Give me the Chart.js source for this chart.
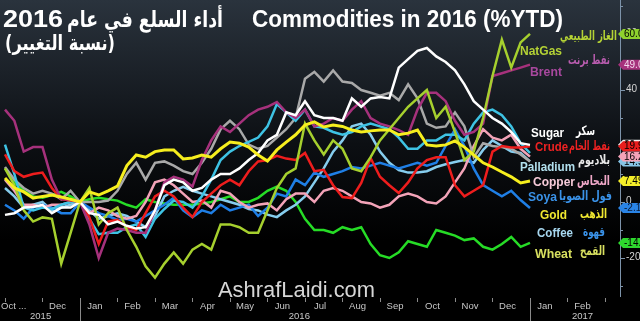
<!DOCTYPE html>
<html>
<head>
<meta charset="utf-8">
<script src="https://cdn.jsdelivr.net/npm/chart.js@4.4.0/dist/chart.umd.min.js"></script>
<style>
html, body { margin: 0; padding: 0; background: #000; }
canvas { display: block; }
</style>
</head>
<body>
<canvas id="chart" width="640" height="321"></canvas>
<script>
// months since 1 Jan 2016, roughly weekly
const months = [-2, -1.75, -1.5, -1.25, -1, -0.75, -0.5, -0.25, 0, 0.25, 0.5, 0.75, 1, 1.25, 1.5, 1.75, 2, 2.25, 2.5, 2.75, 3, 3.25, 3.5, 3.75, 4, 4.25, 4.5, 4.75, 5, 5.25, 5.5, 5.75, 6, 6.25, 6.5, 6.75, 7, 7.25, 7.5, 7.75, 8, 8.25, 8.5, 8.75, 9, 9.25, 9.5, 9.75, 10, 10.25, 10.5, 10.75, 11, 11.25, 11.5, 11.75, 12];

const gold = [8.6, 5, 3.6, 1.4, 2, 2.5, 1.8, 1, 0, 3.6, 2.5, 4, 5.7, 13, 16.8, 16, 18, 18.6, 18.6, 15.4, 15.7, 16.8, 16, 19, 21.4, 21, 19.6, 16.8, 14.6, 18.6, 21.4, 24, 27.5, 28.6, 26.8, 27.5, 27, 25.7, 25, 25.4, 25.7, 25.7, 24, 24.6, 25.7, 20.4, 20, 20.4, 21.8, 19.6, 16.8, 14, 12.5, 10.7, 9, 6.8, 7.49];
const sugar = [-4.6, -4, -2, -1.8, -1, -4, -2, -2, 0, -4, -4.6, -8, -7, -8.5, -9.5, -9, -3, 6, 8, 7, 4, 5, 8, 10, 10, 12, 15, 17.5, 22, 24, 32, 31, 36, 31, 30, 30, 29, 37, 34, 37, 37.5, 37, 48, 51, 54, 55, 52, 50, 47, 42, 36, 33, 30, 28, 25, 21, 20.4];
const natgas = [12, 6, -3, -7, -5.5, -6, -22, -11, 0, 5, -8, -4, -2, -10, -16, -23, -27, -22, -18, -22, -17, -15, -17, -8, -8, -9, -11, -11, -3, 5, 10, 12, 28, 22, 17, 22, 19, 12, 11, 16, 22, 26, 30, 34, 37, 40, 30, 34, 25, 15, 18, 30, 45, 58, 48, 57, 60.02];
const brent = [33, 29, 18, 19.6, 19.6, 8, 1, 1, 0, -8, -20, -11, -9.5, -10, -11, -11, -3, 7, 9, 8, 5.5, 15, 22, 27, 25, 28, 31, 33, 34, 35.7, 32, 30, 33, 27, 28, 30, 29, 33, 36, 30, 28, 27, 25.7, 24, 33, 39, 39, 36, 29, 24, 25, 28, 45, 46, 47, 48, 49.04];
const crude = [17, 11, 9, 10, 10.5, 5, 1, 0.5, 0, -5.5, -15, -7, -6.4, -9, -10, -4, 2, 4, 2, -2, -5.4, 0, 3, 6, 8, 6, 11, 14.5, 15, 16.5, 15.5, 15, 17.5, 11, 11.5, 6, 1.8, 1.4, 6.8, 15.7, 9, 6, 3.2, 7, 12, 15, 16, 16, 6, 2, 4, 6, 18, 20, 19.5, 19.5, 19.93];
const palladium = [20.5, 10, -2, -3, -2, -2.5, -1, 0, 0, -6, -11.5, -11, -11, -9, -8, -12.5, -6, -2.5, 0.5, 0, -2, 2, 8, 15, 18, 20, 21.5, 23, 27, 35, 32, 29, 33, 27, 26.5, 25, 24, 25, 27, 28, 27, 26, 23, 19, 19, 22, 22, 24, 24, 22, 28, 32, 33, 31, 27, 21, 17.5];
const silver = [12.5, 8, 5, 3, 4, 3, 1, 4, 0, 0, 0, 0.5, 4, 10, 14, 8, 14, 14.5, 13, 11, 10, 14, 19, 26, 29, 26, 20.5, 19, 20, 23, 26, 30, 44, 46.5, 43, 47, 43, 42.5, 40, 39, 38, 39, 36.4, 42, 37, 28, 26.5, 27, 32, 27, 16, 21, 20, 19.6, 19, 17, 14.5];
const copper = [8, 4, -1, -1, -2, -1, -1, 0, 0, -4, -2, -3, -5, -6, -5, 0, 7, 8, 6, 3, 0, 0.5, -2, 4, 3, 0, -2, -1, -0.5, -3, 1, 3, 3, 0, 4, 5, 4, 2, 0, -0.5, -2, -1, 2, 3, 2, 0, -0.5, 2, 7, 12, 20, 26, 23, 22, 24, 19, 16.21];
const soya = [-1, -3, -6, -2, -1, -2, -4, -4, 0, -2, -4, -5, -6.4, -6, -7, -5, -3, -1, 1.5, -3, -5.4, -3, -4, -1, -3, -2, -1, -5, -2, 3, 2, 8, 6, 10.5, 9, 10, 11, 12.5, 12, 13, 14, 13, 12, 13, 14, 13, 14, 20, 26, 20, 12, 6, 4, 2, 4, 0.7, -2.14];
const coffee = [5, 2, -2, -1, 0, -3, -2, -1, 0, -3, -6, -5, -4, -5, -7, -9, -5, 2, 4, 5.4, 4, 3, 2, 1, 0, -1, -2.5, -3, -4.5, -5.4, -3, -1, 2, 7, 12, 18, 22, 27, 28, 24, 18, 14, 11.4, 10.5, 10.5, 11, 12.5, 13.5, 14.3, 15, 14, 18.6, 22, 20, 18, 17.5, 14.5];
const wheat = [12, 7, 4, 2, 1.5, 2.5, 3.6, 2, 0, 1, 1.5, 1, 0.5, -1, -2, 1, 0, -0.5, -1, -1, -1, -0.5, 0, 1, 2, 0, 0, 1.5, 4, 5.5, 4, 0, -6, -10, -10, -11, -9, -10, -9, -15, -19, -20, -18, -14, -15, -16, -10, -11, -12, -13.6, -13, -16, -17, -15, -12.5, -16, -14.6];

const tickMonths = [-1, 0, 1, 2, 3, 4, 5, 6, 7, 8, 9, 10, 11, 12, 13];
const tickLabels = ['Dec', 'Jan', 'Feb', 'Mar', 'Apr', 'May', 'Jun', 'Jul', 'Aug', 'Sep', 'Oct', 'Nov', 'Dec', 'Jan', 'Feb'];
const yearLabels = ['2015', '2016', '2017'];
const yearMonths = [-1.05, 5.85, 13.4];
const yTicks = [-20, 0, 20, 40, 60];

const series = [
    { name: 'Gold', data: gold, color: '#f6ee1e', width: 3 },
    { name: 'Sugar', data: sugar, color: '#ffffff', width: 2.5 },
    { name: 'NatGas', data: natgas, color: '#a6d02e', width: 2.5 },
    { name: 'Brent', data: brent, color: '#a6317c', width: 2.5 },
    { name: 'Crude', data: crude, color: '#ee1d1d', width: 2.5 },
    { name: 'Palladium', data: palladium, color: '#3ec3e4', width: 2.5 },
    { name: 'Silver', data: silver, color: '#a9a9a9', width: 2.5 },
    { name: 'Copper', data: copper, color: '#f3a3b8', width: 2.5 },
    { name: 'Soya', data: soya, color: '#1f7fe6', width: 2.5 },
    { name: 'Coffee', data: coffee, color: '#86cdee', width: 2.5 },
    { name: 'Wheat', data: wheat, color: '#26dc26', width: 2.5 }
];

// badges on the right axis, drawn in this order
const badges = [
    { data: coffee, bg: '#86c4e6', fg: '#000' },
    { data: copper, bg: '#f3a3b8', fg: '#000' },
    { data: sugar, bg: '#f0f0f0', fg: '#000' },
    { data: crude, bg: '#e81d1d', fg: '#000' },
    { data: natgas, bg: '#8fd12e', fg: '#000' },
    { data: brent, bg: '#a6317c', fg: '#f4d8ee' },
    { data: gold, bg: '#f4ee2a', fg: '#000' },
    { data: soya, bg: '#2a84e6', fg: '#0b1830' },
    { data: wheat, bg: '#2ed82e', fg: '#000' }
];

// x / width of each text fitted horizontally
const labels = [
    { en: 'NatGas', x: 520, w: 42, y: 51, c: '#b4d235', ar: 'الغاز الطبيعي', ax: 560, aw: 57, ay: 37, ac: '#b4d235' },
    { en: 'Brent', x: 530, w: 32, y: 72, c: '#a8489e', ar: 'نفط برنت', ax: 568, aw: 42, ay: 61, ac: '#b85cae' },
    { en: 'Sugar', x: 531, w: 33, y: 133, c: '#ffffff', ar: 'سكر', ax: 576, aw: 19, ay: 132, ac: '#ffffff' },
    { en: 'Crude', x: 535, w: 33, y: 147, c: '#ee2222', ar: 'نفط الخام', ax: 569, aw: 41, ay: 147, ac: '#ee2222' },
    { en: 'Palladium', x: 520, w: 55, y: 167, c: '#b2e0ee', ar: 'بلاديوم', ax: 578, aw: 32, ay: 161, ac: '#e8e8e8' },
    { en: 'Copper', x: 533, w: 42, y: 182, c: '#f6cad8', ar: 'النحاس', ax: 577, aw: 33, ay: 182, ac: '#f0a8c8' },
    { en: 'Soya', x: 528, w: 29, y: 197, c: '#3a92e8', ar: 'فول الصويا', ax: 559, aw: 53, ay: 197, ac: '#3a92e8' },
    { en: 'Gold', x: 540, w: 27, y: 215, c: '#f0e830', ar: 'الذهب', ax: 580, aw: 27, ay: 215, ac: '#f0e830' },
    { en: 'Coffee', x: 537, w: 36, y: 233, c: '#a8d8f0', ar: 'قهوة', ax: 583, aw: 22, ay: 233, ac: '#3a92e8' },
    { en: 'Wheat', x: 535, w: 37, y: 254, c: '#d8e060', ar: 'القمح', ax: 580, aw: 25, ay: 252, ac: '#d8e060' }
];

function fitText(ctx, text, font, left, y, width, rtl) {
    ctx.save();
    ctx.font = font;
    ctx.direction = rtl ? 'rtl' : 'ltr';
    ctx.textAlign = 'left';
    const w = ctx.measureText(text).width;
    ctx.translate(left, y);
    ctx.scale(width / w, 1);
    ctx.fillText(text, 0, 0);
    ctx.restore();
}

function badge(ctx, y, bg, fg, text) {
    ctx.fillStyle = bg;
    ctx.beginPath();
    ctx.moveTo(618, y);
    ctx.lineTo(623, y - 5);
    ctx.lineTo(646, y - 5);
    ctx.lineTo(646, y + 5);
    ctx.lineTo(623, y + 5);
    ctx.closePath();
    ctx.fill();
    ctx.fillStyle = fg;
    ctx.font = '10px "Liberation Sans"';
    ctx.textAlign = 'left';
    ctx.textBaseline = 'middle';
    ctx.fillText(text, 624, y + 0.5);
}

const decor = {
    id: 'decor',
    beforeDraw(chart) {
        const ctx = chart.ctx;
        const g = ctx.createLinearGradient(0, 0, 0, 321);
        g.addColorStop(0, '#2a333d');
        g.addColorStop(0.45, '#0c0f13');
        g.addColorStop(0.75, '#000000');
        g.addColorStop(1, '#000000');
        ctx.save();
        ctx.fillStyle = g;
        ctx.fillRect(0, 0, 640, 321);
        ctx.restore();
    },
    afterDraw(chart) {
        const ctx = chart.ctx;
        const xs = chart.scales.x;
        const ys = chart.scales.y;
        const area = chart.chartArea;
        ctx.save();

        // right axis
        ctx.strokeStyle = '#7d93aa';
        ctx.lineWidth = 1;
        ctx.beginPath();
        ctx.moveTo(620.5, 0);
        ctx.lineTo(620.5, area.bottom);
        ctx.stroke();
        for (let v = -30; v <= 70; v += 10) {
            const y = Math.round(ys.getPixelForValue(v)) + 0.5;
            ctx.beginPath();
            ctx.moveTo(620, y);
            ctx.lineTo(v % 20 === 0 ? 625 : 623, y);
            ctx.stroke();
        }
        ctx.fillStyle = '#d4d4d4';
        ctx.font = '10px "Liberation Sans"';
        ctx.textAlign = 'left';
        ctx.textBaseline = 'middle';
        yTicks.forEach(v => ctx.fillText(String(v), 626, ys.getPixelForValue(v) - 1));

        badges.forEach(b => {
            const last = b.data[b.data.length - 1];
            badge(ctx, ys.getPixelForValue(last), b.bg, b.fg, last.toFixed(2));
        });

        // x axis
        ctx.strokeStyle = '#8a8a8a';
        for (let m = -2; m <= 14; m++) {
            const x = Math.round(xs.getPixelForValue(m)) + 0.5;
            ctx.beginPath();
            ctx.moveTo(x, area.bottom + 1);
            ctx.lineTo(x, area.bottom + 5);
            ctx.stroke();
        }
        [0, 12].forEach(m => {
            const x = Math.round(xs.getPixelForValue(m)) + 0.5;
            ctx.beginPath();
            ctx.moveTo(x, area.bottom + 1);
            ctx.lineTo(x, 321);
            ctx.stroke();
        });
        ctx.fillStyle = '#c8c8c8';
        ctx.font = '9.5px "Liberation Sans"';
        ctx.textAlign = 'center';
        ctx.textBaseline = 'middle';
        tickMonths.forEach((m, i) => ctx.fillText(tickLabels[i], xs.getPixelForValue(m + 0.4), 306));
        yearMonths.forEach((m, i) => ctx.fillText(yearLabels[i], xs.getPixelForValue(m), 316));
        ctx.textAlign = 'left';
        ctx.fillText('Oct ...', 1, 306);

        // watermark
        ctx.fillStyle = '#d6d6d6';
        ctx.textBaseline = 'alphabetic';
        fitText(ctx, 'AshrafLaidi.com', '22px "Liberation Sans"', 218, 297, 157, false);

        // titles
        ctx.fillStyle = '#ffffff';
        fitText(ctx, 'Commodities in 2016 (%YTD)', 'bold 23px "Liberation Sans"', 252, 27, 311, false);
        fitText(ctx, '2016', 'bold 23px "Liberation Sans"', 3, 27, 60, false);
        fitText(ctx, 'أداء السلع في عام', 'bold 22px "DejaVu Sans"', 67, 27, 156, true);
        fitText(ctx, '(نسبة التغيير)', 'bold 21px "DejaVu Sans"', 5, 50, 110, true);

        // series labels
        ctx.textBaseline = 'middle';
        labels.forEach(l => {
            ctx.fillStyle = l.c;
            fitText(ctx, l.en, 'bold 13px "Liberation Sans"', l.x, l.y, l.w, false);
            ctx.fillStyle = l.ac;
            fitText(ctx, l.ar, 'bold 13px "DejaVu Sans"', l.ax, l.ay, l.aw, true);
        });
        ctx.restore();
    }
};

new Chart(document.getElementById('chart'), {
    type: 'line',
    data: {
        datasets: series.map(s => ({
            label: s.name,
            data: months.map((m, i) => ({ x: m, y: s.data[i] })),
            borderColor: s.color,
            borderWidth: s.width,
            pointRadius: 0,
            tension: 0,
            fill: false
        }))
    },
    options: {
        responsive: false,
        animation: false,
        devicePixelRatio: 1,
        layout: { padding: { left: 0, right: 20, top: 0, bottom: 24 } },
        plugins: { legend: { display: false }, tooltip: { enabled: false } },
        scales: {
            x: { type: 'linear', min: -2.133, max: 14.4, display: false },
            y: { type: 'linear', min: -33.93, max: 72.14, display: false }
        }
    },
    plugins: [decor]
});
</script>
</body>
</html>
